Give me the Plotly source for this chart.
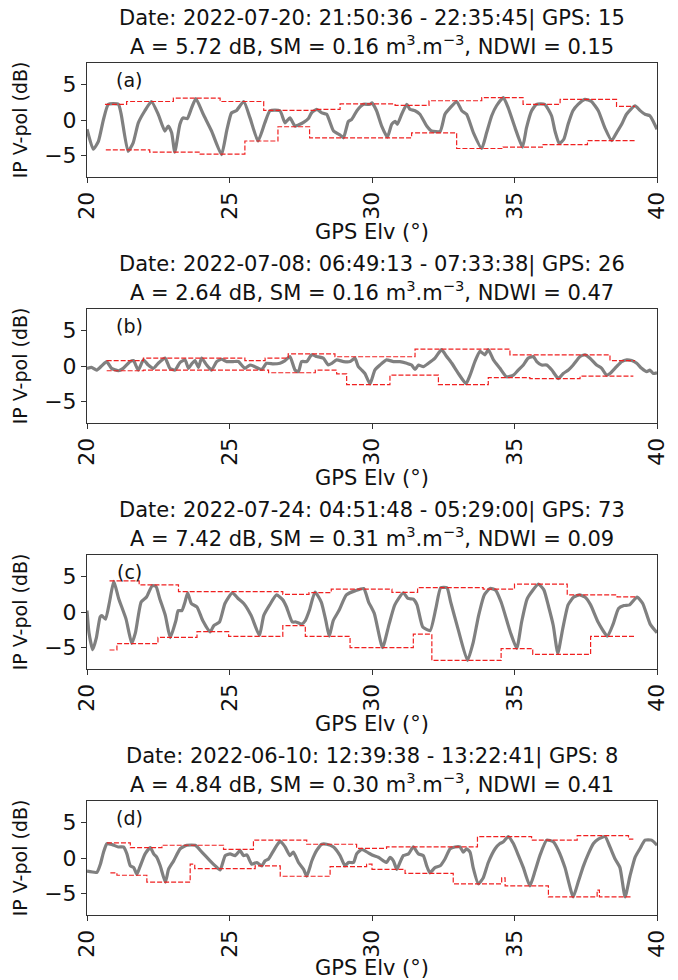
import plotly.graph_objects as go

# ---------------- data ----------------
titles_line1 = [
    "Date: 2022-07-20: 21:50:36 - 22:35:45| GPS: 15",
    "Date: 2022-07-08: 06:49:13 - 07:33:38| GPS: 26",
    "Date: 2022-07-24: 04:51:48 - 05:29:00| GPS: 73",
    "Date: 2022-06-10: 12:39:38 - 13:22:41| GPS: 8",
]
amp_db = ["5.72", "2.64", "7.42", "4.84"]
sm_val = ["0.16", "0.16", "0.31", "0.30"]
ndwi_val = ["0.15", "0.47", "0.09", "0.41"]
panel_labels = ["(a)", "(b)", "(c)", "(d)"]

x_ticks = [20, 25, 30, 35, 40]
y_ticks = [-5, 0, 5]

# Panel (a)
a_x = [20.0, 20.22, 20.4, 20.58, 20.75, 21.1, 21.2, 21.44, 21.62, 21.8, 22.03, 22.26, 22.5, 22.73, 22.85,
       22.97, 23.08, 23.26, 23.37, 23.52, 23.67, 23.82, 24.08, 24.37, 24.72, 24.9, 25.07, 25.25, 25.5, 25.72,
       26.0, 26.24, 26.42, 26.77, 26.95, 27.12, 27.3, 27.47, 27.61, 27.77, 27.88, 28.06, 28.24, 28.41, 28.65,
       28.88, 29.0, 29.17, 29.29, 29.47, 29.7, 29.93, 30.0, 30.16, 30.34, 30.54, 30.69, 30.81, 30.89, 31.04,
       31.22, 31.33, 31.51, 31.68, 31.92, 32.09, 32.39, 32.56, 32.74, 32.97, 33.15, 33.32, 33.56, 33.85, 34.02,
       34.2, 34.37, 34.61, 34.78, 35.02, 35.28, 35.42, 35.6, 35.77, 36.06, 36.3, 36.42, 36.57, 36.73, 36.88,
       37.05, 37.23, 37.47, 37.7, 37.94, 38.17, 38.41, 38.58, 38.76, 38.93, 39.23, 39.4, 39.58, 39.75, 39.87, 40.0]
a_y = [-1.3, -4.1, -3.0, 0.1, 2.2, 2.2, 0.8, -4.4, -3.2, -0.4, 1.3, 2.6, 0.8, -1.55, -0.85,
       -1.8, -4.5, -0.6, 0.3, 0.2, 1.7, 3.0, 0.8, -1.55, -4.85, -1.55, 1.0, 1.35, 2.6, 0.3,
       -2.95, -0.4, 1.3, 1.3, -0.4, 0.3, -0.85, -0.6, -0.3, 0.2, 1.0, 1.5, 1.0, 0.8, -1.55,
       -2.1, -2.5, -0.2, 0.1, 1.3, 2.2, 2.2, 2.4, 1.3, -0.85, -2.4, -0.6, -0.2, -0.6, 0.8,
       2.2, 1.5, 1.3, 0.8, -0.85, -1.55, -1.6, 0.8, 1.7, 2.6, 1.3, 0.8, -1.8, -4.0, -1.8,
       0.6, 2.0, 3.15, 1.7, -1.1, -3.8, -1.1, 1.3, 2.2, 2.2, 0.6, -1.55, -3.3, -2.7, -0.6,
       1.3, 2.2, 2.9, 2.6, 1.3, -1.1, -2.9, -1.8, -0.6, 0.8, 2.0, 1.35, 0.8, 0.6, -0.2, -1.3]
a_up_x = [20.63, 21.39, 23.03, 24.67, 26.2, 28.0, 28.88, 30.81, 32.0, 33.85, 35.3, 36.6, 38.58, 39.23]
a_up_y = [2.2, 2.6, 3.07, 2.6, 1.35, 1.5, 2.25, 2.05, 2.7, 3.15, 2.2, 2.9, 1.9, 1.9]
a_lo_x = [20.66, 22.2, 23.97, 25.54, 26.7, 27.81, 31.39, 32.97, 34.6, 35.98, 37.56, 39.23]
a_lo_y = [-4.2, -4.5, -4.8, -2.95, -0.95, -2.5, -1.8, -4.0, -3.8, -3.45, -2.9, -2.9]

# Panel (b)
b_x = [20.0, 20.16, 20.34, 20.51, 20.69, 20.86, 21.1, 21.27, 21.51, 21.63, 21.8, 21.98, 22.15, 22.33, 22.5,
       22.74, 22.91, 23.09, 23.26, 23.44, 23.56, 23.67, 23.79, 23.91, 24.02, 24.2, 24.37, 24.55, 24.72, 24.9,
       25.13, 25.31, 25.54, 25.72, 25.89, 26.13, 26.3, 26.54, 26.77, 26.95, 27.12, 27.3, 27.42, 27.53, 27.71,
       27.88, 28.06, 28.29, 28.47, 28.59, 28.76, 29.0, 29.23, 29.4, 29.52, 29.64, 29.75, 29.93,
       30.1, 30.28, 30.51, 30.75, 30.98, 31.22, 31.39, 31.51, 31.63, 31.8, 31.98, 32.21, 32.44, 32.62, 32.8,
       33.03, 33.3, 33.44, 33.61, 33.79, 33.96, 34.08, 34.26, 34.49, 34.72, 34.96, 35.13, 35.31, 35.48, 35.66,
       35.78, 35.95, 36.13, 36.31, 36.54, 36.71, 36.89, 37.06, 37.3, 37.47, 37.65, 37.88, 38.06, 38.23, 38.35,
       38.58, 38.76, 38.94, 39.11, 39.29, 39.46, 39.64, 39.75, 39.87, 40.0]
b_y = [-0.33, -0.19, -0.57, 0.0, 0.62, -0.33, -0.67, -0.33, 0.62, 0.76, -0.57, 0.86, 0.14, -0.33, 0.38,
       1.1, -0.33, -0.57, 0.48, 0.86, -0.33, 0.29, 0.76, -0.19, 1.1, 0.14, -0.57, 0.62, 0.95, 0.62,
       0.62, 0.62, -0.33, 0.14, -0.1, -0.48, 0.38, 0.29, 0.38, 0.76, 1.33, -0.57, -0.81, 0.62, 0.62,
       1.57, 1.33, 1.1, 0.14, 0.38, 0.86, 0.62, 0.62, 1.1, -0.1, -0.57, -1.05, -2.5,
       -0.57, 0.14, 0.86, 0.62, 0.62, 0.38, 0.14, -0.48, 0.14, -0.1, 0.38, 1.1, 2.29, 1.33, 0.38,
       -1.05, -2.48, -1.29, 0.62, 2.05, 1.57, 2.29, 0.86, -0.33, -1.52, -1.29, -0.57, 0.14, 1.1, 1.33,
       0.62, 0.14, 0.14, -0.57, -1.76, -1.05, -0.57, 0.14, 1.33, 1.57, 1.1, 0.14, -0.33, -1.29, -1.05,
       -0.1, 0.62, 0.86, 0.76, 0.38, -0.33, -0.81, -0.57, -1.05, -0.95]
b_up_x = [20.69, 21.98, 25.54, 26.25, 27.06, 28.7, 31.51, 34.84, 38.35, 39.23]
b_up_y = [0.76, 1.1, 0.76, 1.1, 1.71, 1.3, 2.38, 1.57, 0.76, 0.76]
b_lo_x = [20.69, 21.98, 26.37, 28.01, 28.76, 29.11, 30.63, 32.33, 34.08, 35.54, 37.3, 39.17]
b_lo_y = [-0.67, -0.57, -0.95, -0.57, -1.1, -2.62, -1.29, -2.62, -1.62, -1.76, -1.43, -1.43]

# Panel (c)
c_x = [20.0, 20.07, 20.2, 20.33, 20.46, 20.52, 20.65, 20.79, 20.94, 21.11, 21.37, 21.57, 21.7, 21.9, 22.09,
       22.29, 22.42, 22.55, 22.75, 22.92, 23.12, 23.2, 23.33, 23.44, 23.53, 23.66, 23.86, 24.06, 24.32, 24.45,
       24.65, 24.84, 25.1, 25.3, 25.5, 25.76, 26.05, 26.2, 26.41, 26.65, 26.87, 27.0, 27.2, 27.33, 27.53,
       27.66, 27.8, 28.0, 28.22, 28.38, 28.5, 28.64, 28.84, 29.1, 29.42, 29.71, 29.88, 30.08, 30.37, 30.6,
       30.8, 31.1, 31.26, 31.45, 31.58, 31.78, 32.04, 32.24, 32.41, 32.63, 32.76, 33.02, 33.35, 33.55, 33.74,
       33.94, 34.14, 34.33, 34.53, 34.86, 35.08, 35.25, 35.45, 35.84, 36.03, 36.2, 36.36, 36.52, 36.69, 36.88,
       37.08, 37.28, 37.47, 37.67, 37.93, 38.26, 38.46, 38.65, 38.84, 39.04, 39.3, 39.5, 39.76, 40.0]
c_y = [0.2, -2.9, -5.3, -3.6, -0.7, -0.5, -1.0, 1.4, 4.3, 1.9, -1.0, -4.4, -2.9, 1.4, 2.1,
       3.7, 3.6, 1.9, -0.5, -3.6, -1.2, 0.2, 0.2, 1.4, 2.7, 1.2, 0.7, -1.2, -2.8, -1.9,
       -1.4, 1.2, 2.7, 1.9, 1.2, -0.5, -3.3, -0.5, 1.0, 2.4, 1.7, 0.7, -1.4, -1.4, -1.7,
       -1.2, 0.2, 2.8, 1.4, -1.2, -3.4, -1.2, 0.2, 2.4, 3.0, 3.3, 1.4, -0.2, -5.0, -1.7,
       1.0, 2.7, 1.9, 1.8, 1.0, -2.1, -2.6, 0.5, 3.4, 3.4, 1.4, -2.4, -6.8, -4.3, -0.5,
       2.4, 3.3, 3.1, 1.4, -2.9, -5.1, -1.4, 1.9, 3.9, 3.1, 0.7, -1.9, -5.8, -2.4, 1.0,
       2.1, 2.4, 2.1, 1.0, -1.4, -3.4, -1.7, 0.5, 0.9, 1.0, 2.1, 1.2, -1.7, -2.9]
c_up_x = [20.79, 21.83, 23.21, 26.87, 27.79, 28.57, 30.7, 31.6, 33.9, 35.0, 36.85, 38.6, 39.24]
c_up_y = [4.38, 3.81, 2.86, 2.48, 2.71, 3.2, 2.75, 3.43, 3.2, 3.92, 2.4, 2.12, 2.12]
c_lo_x = [20.79, 21.05, 22.49, 23.86, 24.97, 26.87, 27.66, 29.23, 31.45, 32.1, 34.53, 35.64, 37.67, 39.24]
c_lo_y = [-5.33, -4.43, -3.57, -2.76, -3.43, -1.9, -3.43, -5.0, -3.1, -6.8, -5.14, -5.95, -3.43, -3.43]

# Panel (d)
d_x = [20.0, 20.35, 20.47, 20.58, 20.7, 20.88, 21.1, 21.28, 21.4, 21.52, 21.64, 21.75, 21.87, 22.04, 22.22,
       22.34, 22.45, 22.57, 22.75, 22.86, 23.04, 23.27, 23.5, 23.8, 24.03, 24.32, 24.5, 24.67, 24.85, 25.02,
       25.2, 25.37, 25.49, 25.61, 25.78, 25.96, 26.13, 26.25, 26.37, 26.48, 26.66, 26.78, 26.95, 27.12, 27.24,
       27.42, 27.6, 27.71, 27.89, 28.06, 28.24, 28.41, 28.65, 28.88, 29.05, 29.17, 29.35, 29.46, 29.64,
       29.87, 30.05, 30.22, 30.4, 30.51, 30.63, 30.75, 30.87, 30.98, 31.1, 31.28, 31.45, 31.63, 31.8, 31.92,
       32.03, 32.21, 32.39, 32.56, 32.74, 32.91, 33.09, 33.2, 33.32, 33.44, 33.55, 33.73, 33.9, 34.08, 34.32,
       34.49, 34.61, 34.78, 34.96, 35.14, 35.31, 35.54, 35.72, 35.89, 36.13, 36.36, 36.54, 36.77, 37.06, 37.24,
       37.42, 37.59, 37.77, 37.94, 38.18, 38.35, 38.53, 38.7, 38.88, 39.05, 39.23, 39.4, 39.58, 39.81, 40.0]
d_y = [-1.85, -2.0, -0.87, 0.82, 2.0, 1.88, 1.55, 1.55, 0.58, -1.1, -1.35, -2.3, -1.1, 0.58, 1.45,
       0.58, 0.1, -1.1, -3.4, -1.6, -0.4, 1.3, 1.78, 1.78, 0.82, -0.39, -1.1, -1.69, 0.34, 0.58,
       0.34, 1.06, 0.34, 0.43, -0.87, -0.63, -1.1, -0.39, -0.14, 0.58, 1.78, 2.37, 1.55, 0.34, 0.82,
       -0.63, -1.59, -2.56, -0.39, 1.06, 1.93, 1.93, 1.55, 0.34, -1.1, -0.63, -0.63, 0.58, 1.21,
       0.72, 0.34, 0.1, -0.39, -0.63, 0.1, -0.39, -1.59, -0.63, 0.34, 0.58, 1.55, 0.58, 0.34, -1.1,
       -2.08, -1.35, -1.1, -0.14, 1.3, 1.55, 1.55, 0.82, 1.3, 0.82, -1.35, -3.62, -2.8, -0.63, 1.3,
       2.03, 2.27, 3.0, 2.03, 0.34, -1.35, -3.91, -1.84, 0.34, 2.51, 2.27, 1.06, -1.35, -5.46, -3.29,
       -1.1, 0.58, 2.03, 2.66, 3.0, 1.55, -0.14, -1.35, -5.46, -2.56, 0.1, 1.3, 2.51, 2.51, 1.79]
d_up_x = [20.7, 21.52, 22.63, 24.79, 25.84, 27.71, 29.46, 30.51, 33.7, 35.6, 37.2, 39.0, 39.17]
d_up_y = [2.13, 1.45, 1.79, 1.21, 2.51, 1.93, 1.35, 1.55, 3.0, 2.51, 3.14, 2.66, 2.66]
d_lo_x = [20.82, 21.05, 22.1, 23.62, 23.78, 25.9, 26.78, 28.53, 29.81, 30.0, 31.16, 32.85, 34.55, 34.67,
          36.19, 37.9, 37.98, 39.1]
d_lo_y = [-2.08, -2.42, -3.38, -0.87, -1.5, -1.11, -2.56, -1.21, -0.87, -1.59, -2.17, -3.62, -2.8, -3.91,
          -5.46, -4.5, -5.46, -5.46]

series = [
    (a_x, a_y, a_up_x, a_up_y, a_lo_x, a_lo_y),
    (b_x, b_y, b_up_x, b_up_y, b_lo_x, b_lo_y),
    (c_x, c_y, c_up_x, c_up_y, c_lo_x, c_lo_y),
    (d_x, d_y, d_up_x, d_up_y, d_lo_x, d_lo_y),
]

# ---------------- layout geometry (pixels) ----------------
W, H = 678, 980
PX_L, PX_R = 87, 657
TOP0, PANEL_H, STEP = 63, 114, 246

FONT = "DejaVu Sans"
GRAY = "#808080"
RED = "#f02020"
AX_COL = "#333333"
TXT = "#111111"

fig = go.Figure()
layout = dict(
    width=W, height=H,
    margin=dict(l=0, r=0, t=0, b=0, autoexpand=False),
    paper_bgcolor="white", plot_bgcolor="white",
    font=dict(family=FONT, color=TXT),
    showlegend=False,
)
annotations = []

for i, (gx, gy, ux, uy, lx, ly) in enumerate(series):
    n = "" if i == 0 else str(i + 1)
    xref, yref = "x" + n, "y" + n
    top = TOP0 + i * STEP
    bot = top + PANEL_H

    fig.add_trace(go.Scatter(x=gx, y=gy, mode="lines", xaxis=xref, yaxis=yref,
                             line=dict(color=GRAY, width=3.2, shape="spline", smoothing=0.5),
                             hoverinfo="skip"))
    fig.add_trace(go.Scatter(x=ux, y=uy, mode="lines", xaxis=xref, yaxis=yref,
                             line=dict(color=RED, width=1.2, dash="5px,2px", shape="hv"), hoverinfo="skip"))
    fig.add_trace(go.Scatter(x=lx, y=ly, mode="lines", xaxis=xref, yaxis=yref,
                             line=dict(color=RED, width=1.2, dash="5px,2px", shape="hv"), hoverinfo="skip"))

    common = dict(showline=True, linecolor=AX_COL, linewidth=1, mirror=True,
                  ticks="outside", ticklen=5, tickcolor=AX_COL, tickwidth=1,
                  showgrid=False, zeroline=False, automargin=False,
                  tickfont=dict(family=FONT, size=22, color=TXT))
    layout["xaxis" + n] = dict(
        common, domain=[PX_L / W, PX_R / W], anchor=yref, range=[20, 40],
        tickmode="array", tickvals=x_ticks, ticktext=[str(v) for v in x_ticks], tickangle=-90,
        title=dict(text="GPS Elv (°)", font=dict(family=FONT, size=21, color=TXT), standoff=0),
    )
    layout["yaxis" + n] = dict(
        common, domain=[1 - bot / H, 1 - top / H], anchor=xref, range=[-8, 8],
        tickmode="array", tickvals=y_ticks,
        title=dict(text="IP V-pol (dB)", font=dict(family=FONT, size=19, color=TXT), standoff=11),
    )

    cx = (PX_L + PX_R) / 2 / W
    annotations.append(dict(
        x=cx, y=1 - (18 + i * STEP) / H, xref="paper", yref="paper",
        text=titles_line1[i], showarrow=False, xanchor="center", yanchor="middle",
        font=dict(family=FONT, size=21, color=TXT)))
    annotations.append(dict(
        x=cx, y=1 - (45 + i * STEP) / H, xref="paper", yref="paper",
        text=f"A = {amp_db[i]} dB, SM = {sm_val[i]} m<sup>3</sup>.m<sup>−3</sup>, NDWI = {ndwi_val[i]}",
        showarrow=False, xanchor="center", yanchor="middle",
        font=dict(family=FONT, size=21, color=TXT)))
    annotations.append(dict(
        x=129 / W, y=1 - (top + 17) / H, xref="paper", yref="paper",
        text=panel_labels[i], showarrow=False, xanchor="center", yanchor="middle",
        font=dict(family=FONT, size=19, color=TXT)))

layout["annotations"] = annotations
fig.update_layout(**layout)
fig.write_html("out.html")
